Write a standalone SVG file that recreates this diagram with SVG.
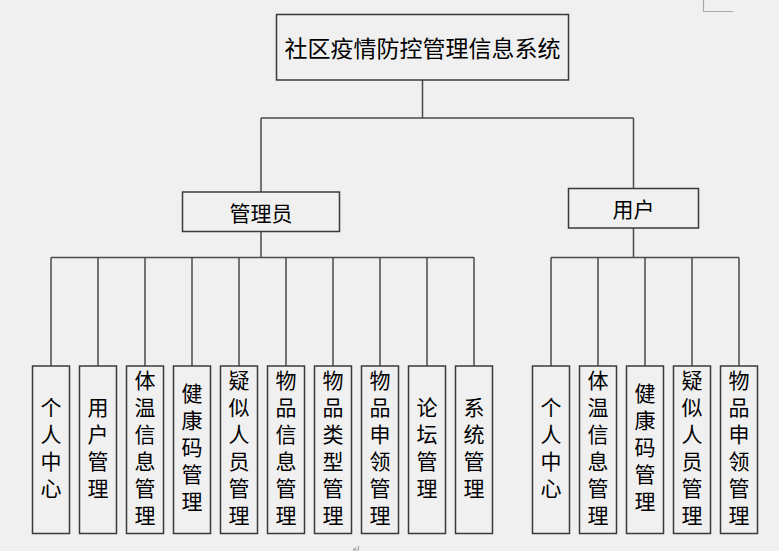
<svg xmlns="http://www.w3.org/2000/svg" width="779" height="551" viewBox="0 0 779 551">
<style>
.bg{fill:#f0f0f0}
.box{fill:#f0f0f0;stroke:#3a3a3a;stroke-width:1.5}
.ln{fill:none;stroke:#4a4a4a;stroke-width:1.5}
.mark{fill:none;stroke:#a8a8a8;stroke-width:1.2}
text{font-family:"Noto Sans CJK SC","Noto Sans",sans-serif;fill:#000;text-anchor:middle;dominant-baseline:central}
.t1{font-size:23px}
.t2{font-size:21px}
.v{font-size:21px;writing-mode:vertical-rl;letter-spacing:6px}
</style>
<rect class="bg" x="0" y="0" width="779" height="551"/>
<path class="mark" d="M703.5 0 V11.5 H733"/>
<path class="mark" d="M358.5 546 V550 M353 550 H358.5 M353 550 L356 547.5"/>
<g id="connectors">
<path class="ln" d="M422.5 80 V118 M261 118 H633.5 M261 118 V192 M633.5 118 V188.5"/>
<path class="ln" d="M261 231.5 V257.5 M51 257.5 H474 M51 257.5 V366 M98 257.5 V366 M145 257.5 V366 M192 257.5 V366 M239 257.5 V366 M286 257.5 V366 M333 257.5 V366 M380 257.5 V366 M427 257.5 V366 M474 257.5 V366"/>
<path class="ln" d="M633.5 228 V257.5 M551 257.5 H739 M551 257.5 V366 M598 257.5 V366 M645 257.5 V366 M692 257.5 V366 M739 257.5 V366"/>
</g>
<g id="root"><rect class="box" x="276.5" y="14.5" width="292" height="65.5"/><text class="t1" x="422.5" y="47">社区疫情防控管理信息系统</text></g>
<g id="admin"><rect class="box" x="182.5" y="192" width="157" height="39.5"/><text class="t2" x="261" y="212">管理员</text></g>
<g id="user"><rect class="box" x="568.5" y="188.5" width="130" height="39.5"/><text class="t2" x="633.5" y="208">用户</text></g>

<g id="a1"><rect class="box" x="32.5" y="366" width="37" height="167.5"/><text class="v" x="51" y="450.5">个人中心</text></g>
<g id="a2"><rect class="box" x="79.5" y="366" width="37" height="167.5"/><text class="v" x="98" y="450.5">用户管理</text></g>
<g id="a3"><rect class="box" x="126.5" y="366" width="37" height="167.5"/><text class="v" x="145" y="450.5">体温信息管理</text></g>
<g id="a4"><rect class="box" x="173.5" y="366" width="37" height="167.5"/><text class="v" x="192" y="450.5">健康码管理</text></g>
<g id="a5"><rect class="box" x="220.5" y="366" width="37" height="167.5"/><text class="v" x="239" y="450.5">疑似人员管理</text></g>
<g id="a6"><rect class="box" x="267.5" y="366" width="37" height="167.5"/><text class="v" x="286" y="450.5">物品信息管理</text></g>
<g id="a7"><rect class="box" x="314.5" y="366" width="37" height="167.5"/><text class="v" x="333" y="450.5">物品类型管理</text></g>
<g id="a8"><rect class="box" x="361.5" y="366" width="37" height="167.5"/><text class="v" x="380" y="450.5">物品申领管理</text></g>
<g id="a9"><rect class="box" x="408.5" y="366" width="37" height="167.5"/><text class="v" x="427" y="450.5">论坛管理</text></g>
<g id="a10"><rect class="box" x="455.5" y="366" width="37" height="167.5"/><text class="v" x="474" y="450.5">系统管理</text></g>

<g id="u1"><rect class="box" x="532.5" y="366" width="37" height="167.5"/><text class="v" x="551" y="450.5">个人中心</text></g>
<g id="u2"><rect class="box" x="579.5" y="366" width="37" height="167.5"/><text class="v" x="598" y="450.5">体温信息管理</text></g>
<g id="u3"><rect class="box" x="626.5" y="366" width="37" height="167.5"/><text class="v" x="645" y="450.5">健康码管理</text></g>
<g id="u4"><rect class="box" x="673.5" y="366" width="37" height="167.5"/><text class="v" x="692" y="450.5">疑似人员管理</text></g>
<g id="u5"><rect class="box" x="720.5" y="366" width="37" height="167.5"/><text class="v" x="739" y="450.5">物品申领管理</text></g>
</svg>
